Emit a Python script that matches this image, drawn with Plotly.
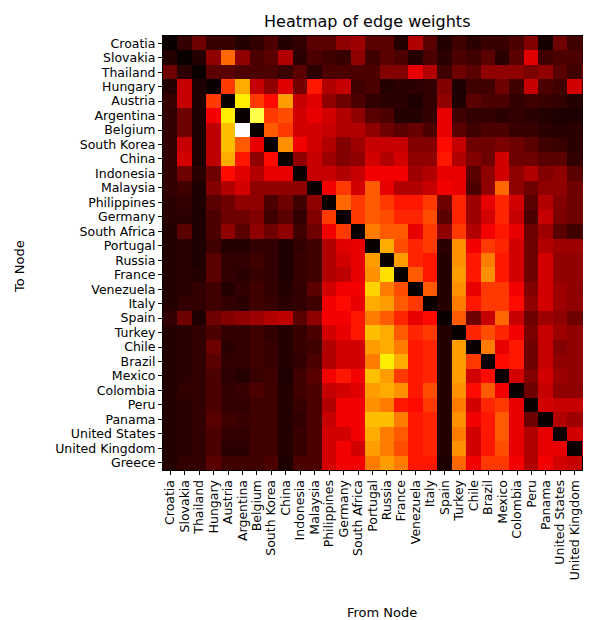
import plotly.graph_objects as go

nodes = ["Croatia", "Slovakia", "Thailand", "Hungary", "Austria", "Argentina", "Belgium",
         "South Korea", "China", "Indonesia", "Malaysia", "Philippines", "Germany",
         "South Africa", "Portugal", "Russia", "France", "Venezuela", "Italy", "Spain",
         "Turkey", "Chile", "Brazil", "Mexico", "Colombia", "Peru", "Panama",
         "United States", "United Kingdom", "Greece"]

w_croatia = [0,0.06,0.15,0.07,0.07,0.04,0.06,0.1,0.04,0.06,0.12,0.12,0.2,0.22,0.12,0.12,0.04,0.25,0.12,0.04,0.08,0.05,0.07,0.07,0.1,0.18,0.02,0.15,0.08,0.08]
w_slovakia = [0.04,0,0.04,0.2,0.52,0.2,0.1,0.12,0.25,0.05,0.1,0.08,0.07,0.2,0.08,0.12,0.1,0.04,0.1,0.05,0.1,0.08,0.12,0.05,0.12,0.32,0.08,0.1,0.1,0.08]
w_thailand = [0.15,0.05,0,0.12,0.12,0.1,0.1,0.1,0.07,0.12,0.05,0.1,0.1,0.1,0.1,0.18,0.18,0.33,0.25,0.08,0.15,0.12,0.2,0.2,0.2,0.17,0.2,0.12,0.08,0.15]
w_hungary = [0.04,0.28,0.03,0,0.45,0.62,0.28,0.2,0.32,0.16,0.4,0.25,0.28,0.08,0.1,0.04,0.05,0.05,0.06,0.18,0.03,0.08,0.08,0.15,0.08,0.28,0.1,0.08,0.3,0.1]
w_austria = [0.07,0.28,0.03,0.45,0,0.72,0.45,0.38,0.6,0.28,0.32,0.2,0.15,0.1,0.06,0.05,0.05,0.03,0.06,0.2,0.03,0.12,0.1,0.1,0.06,0.08,0.07,0.06,0.04,0.05]
w_argentina = [0.06,0.15,0.03,0.35,0.72,0,0.82,0.45,0.48,0.3,0.33,0.3,0.25,0.2,0.12,0.1,0.04,0.04,0.06,0.33,0.08,0.06,0.06,0.05,0.06,0.05,0.04,0.03,0.03,0.04]
w_belgium = [0.06,0.15,0.03,0.27,0.65,1.0,0,0.5,0.45,0.3,0.3,0.28,0.25,0.25,0.2,0.15,0.12,0.14,0.1,0.33,0.12,0.08,0.1,0.1,0.07,0.07,0.05,0.04,0.05,0.04]
w_skorea = [0.06,0.28,0.03,0.27,0.65,0.5,0.33,0,0.58,0.35,0.3,0.25,0.18,0.22,0.28,0.28,0.28,0.18,0.18,0.38,0.28,0.15,0.15,0.17,0.15,0.12,0.08,0.07,0.05,0.05]
w_china = [0.06,0.3,0.03,0.27,0.62,0.4,0.2,0.38,0,0.2,0.28,0.22,0.18,0.2,0.3,0.25,0.3,0.2,0.2,0.4,0.25,0.18,0.15,0.3,0.15,0.15,0.12,0.12,0.06,0.06]
w_indonesia = [0.06,0.15,0.05,0.15,0.38,0.32,0.25,0.33,0.33,0,0.28,0.28,0.25,0.28,0.35,0.35,0.35,0.22,0.25,0.33,0.33,0.12,0.2,0.3,0.2,0.25,0.18,0.2,0.12,0.1]
w_malaysia = [0.06,0.08,0.03,0.18,0.25,0.3,0.2,0.2,0.2,0.2,0,0.35,0.45,0.3,0.5,0.33,0.25,0.25,0.28,0.35,0.33,0.1,0.2,0.52,0.2,0.15,0.2,0.2,0.15,0.18]
w_philippines = [0.05,0.06,0.03,0.12,0.15,0.2,0.2,0.1,0.15,0.08,0.2,0,0.52,0.45,0.5,0.45,0.4,0.4,0.45,0.15,0.42,0.22,0.33,0.42,0.3,0.12,0.25,0.18,0.15,0.15]
w_germany = [0.05,0.05,0.03,0.1,0.15,0.15,0.18,0.08,0.12,0.06,0.18,0.45,0,0.45,0.5,0.48,0.42,0.42,0.48,0.12,0.42,0.22,0.3,0.42,0.28,0.1,0.28,0.17,0.15,0.15]
w_safrica = [0.04,0.12,0.03,0.1,0.2,0.12,0.2,0.15,0.2,0.08,0.15,0.35,0.45,0,0.55,0.5,0.5,0.33,0.45,0.2,0.45,0.25,0.35,0.4,0.33,0.15,0.22,0.12,0.08,0.12]
w_portugal = [0.04,0.05,0.03,0.08,0.04,0.04,0.06,0.06,0.03,0.06,0.08,0.25,0.32,0.33,0,0.62,0.48,0.42,0.45,0.05,0.58,0.35,0.45,0.42,0.3,0.15,0.25,0.22,0.22,0.2]
w_russia = [0.04,0.05,0.03,0.12,0.06,0.06,0.08,0.06,0.03,0.07,0.08,0.25,0.3,0.33,0.6,0,0.6,0.42,0.4,0.04,0.58,0.4,0.55,0.4,0.3,0.15,0.3,0.2,0.2,0.2]
w_france = [0.04,0.05,0.04,0.12,0.06,0.05,0.07,0.06,0.03,0.07,0.08,0.25,0.27,0.33,0.58,0.7,0,0.5,0.4,0.04,0.6,0.4,0.58,0.4,0.3,0.15,0.3,0.2,0.2,0.2]
w_venezuela = [0.04,0.05,0.06,0.08,0.04,0.06,0.08,0.06,0.04,0.06,0.12,0.3,0.35,0.35,0.68,0.55,0.48,0,0.5,0.04,0.58,0.33,0.45,0.45,0.35,0.18,0.3,0.22,0.2,0.18]
w_italy = [0.04,0.06,0.06,0.08,0.06,0.05,0.08,0.07,0.05,0.06,0.08,0.35,0.38,0.33,0.62,0.6,0.5,0.45,0,0.04,0.55,0.4,0.45,0.45,0.38,0.2,0.3,0.22,0.2,0.2]
w_spain = [0.06,0.15,0.03,0.15,0.18,0.2,0.22,0.25,0.27,0.12,0.2,0.35,0.35,0.4,0.55,0.5,0.42,0.33,0.38,0,0.5,0.15,0.28,0.52,0.28,0.15,0.22,0.2,0.15,0.12]
w_turkey = [0.04,0.05,0.06,0.1,0.06,0.06,0.08,0.06,0.04,0.07,0.1,0.3,0.33,0.4,0.65,0.62,0.5,0.42,0.45,0.04,0,0.42,0.48,0.42,0.35,0.17,0.28,0.22,0.2,0.2]
w_chile = [0.04,0.05,0.06,0.15,0.05,0.06,0.08,0.07,0.04,0.07,0.08,0.25,0.3,0.3,0.6,0.62,0.55,0.4,0.42,0.04,0.6,0,0.55,0.33,0.4,0.15,0.28,0.18,0.2,0.2]
w_brazil = [0.04,0.05,0.06,0.12,0.06,0.06,0.08,0.07,0.04,0.06,0.1,0.25,0.3,0.3,0.55,0.72,0.62,0.4,0.42,0.04,0.6,0.45,0,0.38,0.4,0.15,0.28,0.2,0.2,0.2]
w_mexico = [0.04,0.05,0.06,0.1,0.05,0.04,0.07,0.08,0.03,0.08,0.12,0.35,0.4,0.35,0.65,0.6,0.45,0.4,0.42,0.04,0.6,0.3,0.38,0,0.3,0.18,0.3,0.22,0.2,0.2]
w_colombia = [0.04,0.06,0.06,0.1,0.06,0.07,0.1,0.08,0.04,0.08,0.1,0.28,0.3,0.32,0.6,0.62,0.58,0.4,0.48,0.04,0.58,0.38,0.5,0.35,0,0.15,0.28,0.2,0.2,0.18]
w_peru = [0.04,0.05,0.06,0.1,0.06,0.06,0.08,0.08,0.04,0.07,0.1,0.25,0.35,0.35,0.58,0.55,0.4,0.38,0.45,0.04,0.55,0.3,0.42,0.45,0.33,0,0.3,0.28,0.28,0.28]
w_panama = [0.04,0.05,0.06,0.12,0.08,0.07,0.08,0.08,0.04,0.06,0.1,0.28,0.35,0.35,0.65,0.65,0.55,0.4,0.42,0.04,0.58,0.35,0.4,0.5,0.33,0.15,0,0.25,0.22,0.2]
w_usa = [0.04,0.05,0.06,0.1,0.06,0.06,0.08,0.08,0.04,0.07,0.1,0.3,0.3,0.35,0.62,0.55,0.5,0.4,0.42,0.04,0.55,0.3,0.4,0.5,0.33,0.25,0.33,0,0.3,0.3]
w_uk = [0.04,0.05,0.06,0.1,0.05,0.05,0.08,0.08,0.04,0.07,0.1,0.3,0.35,0.3,0.6,0.55,0.48,0.4,0.42,0.04,0.58,0.3,0.4,0.48,0.33,0.25,0.33,0.33,0,0.3]
w_greece = [0.04,0.06,0.06,0.12,0.08,0.08,0.08,0.1,0.03,0.1,0.1,0.3,0.35,0.35,0.55,0.6,0.55,0.4,0.4,0.03,0.52,0.35,0.45,0.45,0.35,0.25,0.35,0.3,0.28,0]

weights = [w_croatia, w_slovakia, w_thailand, w_hungary, w_austria, w_argentina, w_belgium,
           w_skorea, w_china, w_indonesia, w_malaysia, w_philippines, w_germany, w_safrica,
           w_portugal, w_russia, w_france, w_venezuela, w_italy, w_spain, w_turkey, w_chile,
           w_brazil, w_mexico, w_colombia, w_peru, w_panama, w_usa, w_uk, w_greece]

hot = [[0.0, "rgb(10,0,0)"], [0.365, "rgb(255,0,0)"], [0.746, "rgb(255,255,0)"], [1.0, "rgb(255,255,255)"]]

fig = go.Figure(go.Heatmap(z=weights, x=nodes, y=nodes, colorscale=hot, zmin=0, zmax=1,
                           showscale=False))

# page body has an 8px margin, so the figure is offset by 8px in the window
OFF = 8
W, H = 591 - OFF, 620 - OFF
L, R, T, B = 163 - OFF, 0, 36 - OFF, 620 - 470
pw, ph = W - L - R, H - T - B


def px(x_page):
    return (x_page - OFF - L) / pw


def py(y_page):
    return (H - (y_page - OFF) - B) / ph


font = "DejaVu Sans, sans-serif"
fig.update_layout(
    width=W, height=H,
    margin=dict(l=L, r=R, t=T, b=B, autoexpand=False),
    paper_bgcolor="white", plot_bgcolor="white",
    font=dict(family=font, size=12, color="black"),
    annotations=[
        dict(text="Heatmap of edge weights", x=px(367), y=py(21), xref="paper", yref="paper",
             xanchor="center", yanchor="middle", showarrow=False, font=dict(size=16)),
        dict(text="From Node", x=px(382), y=py(612), xref="paper", yref="paper",
             xanchor="center", yanchor="middle", showarrow=False, font=dict(size=13)),
        dict(text="To Node", x=px(19), y=py(267), xref="paper", yref="paper",
             xanchor="center", yanchor="middle", showarrow=False, textangle=-90,
             font=dict(size=13)),
    ],
)

fig.update_xaxes(type="category", range=[-0.5, 29.12], tickangle=-90, ticks="outside",
                 ticklen=4, tickcolor="black", showline=True, linecolor="black", mirror=True,
                 showgrid=False, tickfont=dict(size=12.5), automargin=False,
                 ticklabeloverflow="allow",
                 tickmode="array", tickvals=nodes, ticktext=nodes)
fig.update_yaxes(type="category", range=[29.5, -0.5], ticks="outside", ticklen=4,
                 tickcolor="black", showline=True, linecolor="black", mirror=True,
                 showgrid=False, tickfont=dict(size=12.5), automargin=False,
                 tickmode="array", tickvals=nodes, ticktext=nodes)

fig.write_html("out.html")
